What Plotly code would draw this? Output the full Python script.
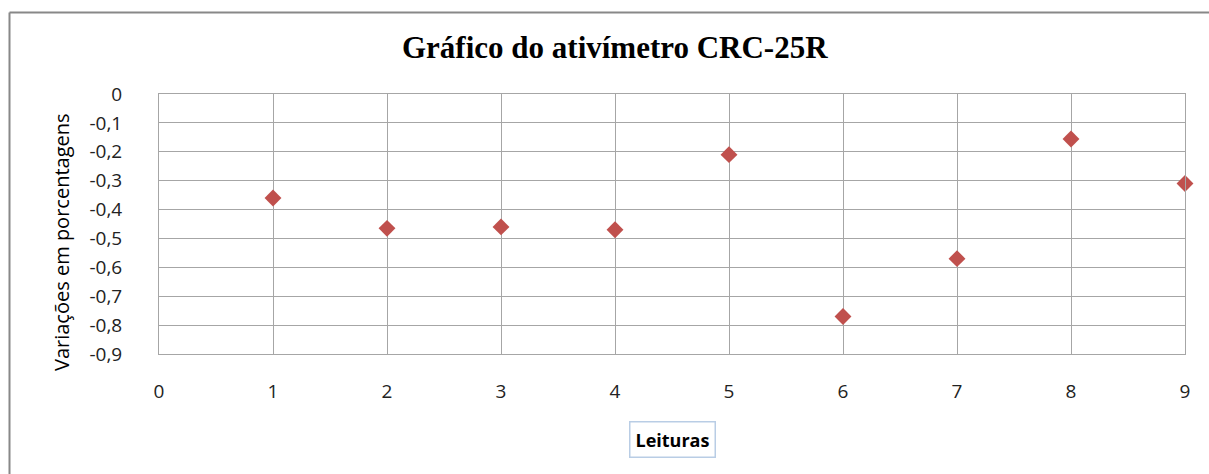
import plotly.graph_objects as go

leituras = [1, 2, 3, 4, 5, 6, 7, 8, 9]
variacoes = [-0.36, -0.465, -0.46, -0.47, -0.21, -0.77, -0.57, -0.156, -0.31]
y_ticks = [0, -0.1, -0.2, -0.3, -0.4, -0.5, -0.6, -0.7, -0.8, -0.9]
y_tick_text = ["0", "-0,1", "-0,2", "-0,3", "-0,4", "-0,5", "-0,6", "-0,7", "-0,8", "-0,9"]
x_ticks = [0, 1, 2, 3, 4, 5, 6, 7, 8, 9]

W, H = 1209, 474
L, R, T, B = 159, 24, 94, 120
pw, ph = W - L - R, H - T - B

def px_to_paper_x(p):
    return (p - L) / pw

def px_to_paper_y(p):
    return (H - B - p) / ph

fig = go.Figure()
fig.add_trace(go.Scatter(
    x=leituras, y=variacoes, mode="markers",
    marker=dict(symbol="diamond", size=13, color="#C0504D"),
    cliponaxis=False, showlegend=False,
))

font_main = "Open Sans, Noto Sans, sans-serif"
fig.update_layout(
    width=W, height=H,
    margin=dict(l=L, r=R, t=T, b=B),
    paper_bgcolor="white", plot_bgcolor="white",
    xaxis=dict(range=[0, 9], tickvals=x_ticks, ticktext=[str(v) for v in x_ticks],
               showgrid=True, gridcolor="#A6A6A6", gridwidth=1,
               showline=True, linecolor="#A6A6A6", linewidth=1, mirror=True,
               zeroline=False, ticks="", ticklen=0, ticklabelstandoff=20,
               tickfont=dict(family=font_main, size=19, color="#222"),
               fixedrange=True),
    yaxis=dict(range=[-0.9, 0], tickvals=y_ticks, ticktext=y_tick_text,
               showgrid=True, gridcolor="#A6A6A6", gridwidth=1,
               showline=True, linecolor="#A6A6A6", linewidth=1, mirror=True,
               zeroline=False, ticks="", ticklen=0, ticklabelstandoff=32,
               tickfont=dict(family=font_main, size=19, color="#222"),
               fixedrange=True),
)

# title
fig.add_annotation(
    text="<b>Gráfico do ativímetro CRC-25R</b>", xref="paper", yref="paper",
    x=px_to_paper_x(615), y=px_to_paper_y(48), xanchor="center", yanchor="middle",
    showarrow=False,
    font=dict(family="Liberation Serif, Times New Roman, serif", size=31, color="black"),
)

# y-axis title
fig.add_annotation(
    text="Variações em porcentagens", xref="paper", yref="paper",
    x=px_to_paper_x(61), y=px_to_paper_y(242), xanchor="center", yanchor="middle",
    textangle=-90, showarrow=False,
    font=dict(family=font_main, size=20, color="black"),
)

# x-axis title box
fig.add_annotation(
    text="<b>Leituras</b>", xref="paper", yref="paper",
    x=px_to_paper_x(672), y=px_to_paper_y(439),
    xanchor="center", yanchor="middle", showarrow=False,
    font=dict(family=font_main, size=18, color="black"),
    bordercolor="#B9CDE5", borderwidth=1.5, borderpad=5, bgcolor="white",
)

# outer chart border (left and top visible)
fig.add_shape(type="line", xref="paper", yref="paper",
              x0=px_to_paper_x(9.5), x1=px_to_paper_x(1220),
              y0=px_to_paper_y(12.5), y1=px_to_paper_y(12.5),
              line=dict(color="#888888", width=2))
fig.add_shape(type="line", xref="paper", yref="paper",
              x0=px_to_paper_x(9.5), x1=px_to_paper_x(9.5),
              y0=px_to_paper_y(12.5), y1=px_to_paper_y(480),
              line=dict(color="#888888", width=2))

fig.write_html("out.html", config={"displayModeBar": False},
               post_script="document.body.style.margin='0';document.body.style.overflow='hidden';")
